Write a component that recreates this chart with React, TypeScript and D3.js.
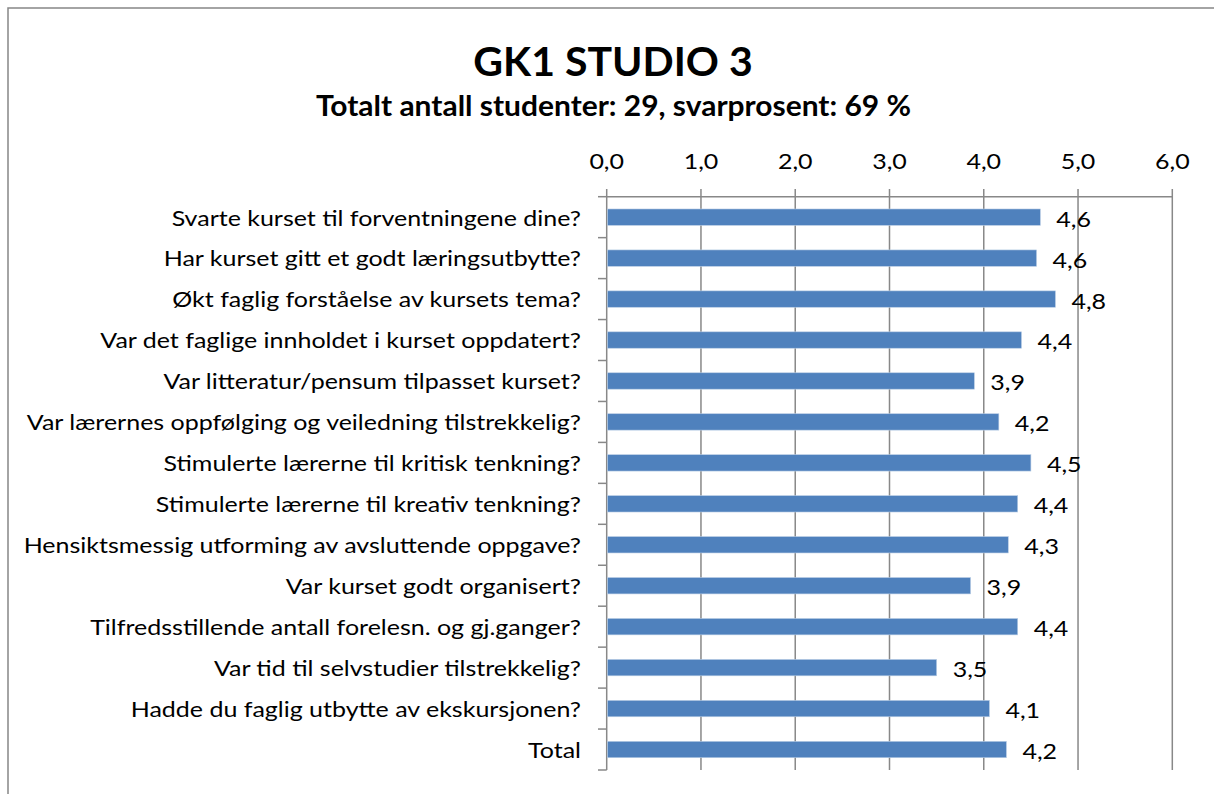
import React from "react";
import * as d3 from "d3";

const title = "GK1 STUDIO 3";
const subtitle = "Totalt antall studenter: 29, svarprosent: 69 %";

const categories: string[] = [
  "Svarte kurset til forventningene dine?",
  "Har kurset gitt et godt læringsutbytte?",
  "Økt faglig forståelse av kursets tema?",
  "Var det faglige innholdet i kurset oppdatert?",
  "Var litteratur/pensum tilpasset kurset?",
  "Var lærernes oppfølging og veiledning tilstrekkelig?",
  "Stimulerte lærerne til kritisk tenkning?",
  "Stimulerte lærerne til kreativ tenkning?",
  "Hensiktsmessig utforming av avsluttende oppgave?",
  "Var kurset godt organisert?",
  "Tilfredsstillende antall forelesn. og gj.ganger?",
  "Var tid til selvstudier tilstrekkelig?",
  "Hadde du faglig utbytte av ekskursjonen?",
  "Total",
];

const values: number[] = [4.6, 4.56, 4.76, 4.4, 3.9, 4.16, 4.5, 4.36, 4.26, 3.86, 4.36, 3.5, 4.06, 4.24];

const xTicks: number[] = [0, 1, 2, 3, 4, 5, 6];

const fmt = (v: number) => d3.format(".1f")(v).replace(".", ",");

export default function App() {
  const W = 1214;
  const H = 794;
  const font = "Lato, 'Open Sans', sans-serif";
  const grid = "#888888";
  const fs = 21;
  const sx = 1.19;
  const x = d3.scaleLinear().domain([0, 6]).range([606.7, 1172.3]);
  const y = d3.scaleBand<string>().domain(categories).range([196.7, 770]).padding(0);
  const step = y.bandwidth();
  const barH = step / 2.5;

  return (
    <svg width={W} height={H} style={{ position: "absolute", left: 0, top: 0, background: "#fff" }}>
      <rect x={0} y={0} width={W} height={H} fill="#fff" />
      <rect x={8} y={8} width={W + 50} height={H + 50} fill="none" stroke="#868686" strokeWidth={1.5} />
      <text x={613} y={76} textAnchor="middle" fontFamily={font} fontWeight="bold" fontSize={41} fill="#000">
        {title}
      </text>
      <text transform={`translate(613.5,115.5) scale(1.07,1)`} textAnchor="middle" fontFamily={font} fontWeight="bold" fontSize={28} fill="#000">
        {subtitle}
      </text>
      {xTicks.map((t) => (
        <g key={t}>
          <line x1={x(t)} x2={x(t)} y1={189} y2={770} stroke={grid} strokeWidth={1.5} />
          <text transform={`translate(${x(t)},169) scale(${sx},1)`} textAnchor="middle" fontFamily={font} fontSize={fs} fill="#000">
            {fmt(t)}
          </text>
        </g>
      ))}
      <line x1={x(0)} x2={x(6)} y1={196.7} y2={196.7} stroke={grid} strokeWidth={1.5} />
      {d3.range(categories.length + 1).map((i) => (
        <line key={i} x1={598} x2={x(0)} y1={196.7 + i * step} y2={196.7 + i * step} stroke={grid} strokeWidth={1.5} />
      ))}
      {categories.map((c, i) => {
        const cy = (y(c) as number) + step / 2;
        return (
          <g key={c}>
            <rect x={x(0) + 0.8} y={cy - barH / 2} width={x(values[i]) - x(0) - 0.8} height={barH} fill="#4F81BD" stroke="#B9CDE5" strokeWidth={0.6} />
            <text transform={`translate(581,${cy + 1}) scale(${sx},1)`} dy="0.35em" textAnchor="end" fontFamily={font} fontSize={fs} fill="#000">
              {c}
            </text>
            <text transform={`translate(${x(values[i]) + 16},${cy}) scale(${sx},1)`} dy="0.45em" textAnchor="start" fontFamily={font} fontSize={fs} fill="#000">
              {fmt(values[i])}
            </text>
          </g>
        );
      })}
    </svg>
  );
}
